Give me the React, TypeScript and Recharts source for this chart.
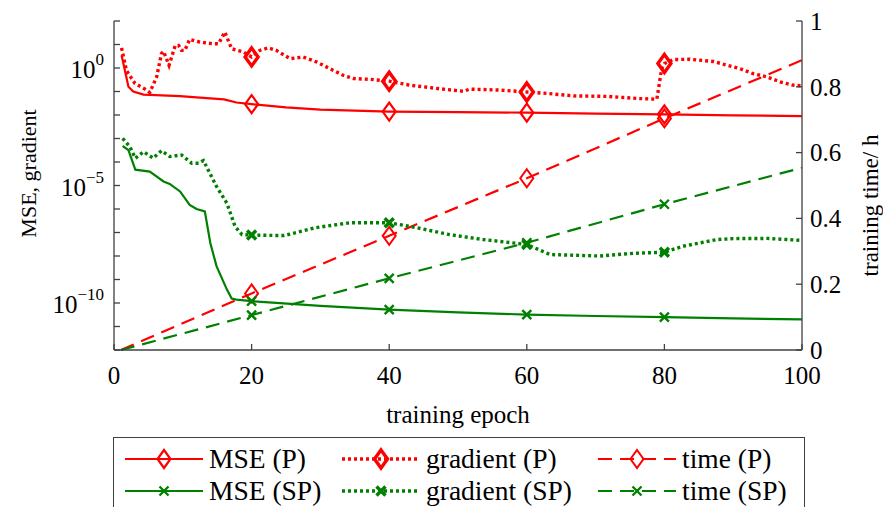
import React from 'react';
import { LineChart, Line, XAxis, YAxis, Legend } from 'recharts';

const RED = '#ff0000';
const GREEN = '#008000';
const AXIS = '#404040';
const FONT = "'Liberation Serif', 'DejaVu Serif', serif";

// x: training epoch
const xTicks = [0, 20, 40, 60, 80, 100];
const markerEpochs = [20, 40, 60, 80];
// left axis (log): decades
const logTicks = [1e2, 1e1, 1e0, 1e-1, 1e-2, 1e-3, 1e-4, 1e-5, 1e-6, 1e-7, 1e-8, 1e-9, 1e-10, 1e-11, 1e-12];
const logLabelled: Record<string, string> = { '1': '0', '0.00001': '−5', '1e-10': '−10' };
// right axis: training time / h
const timeTicks = [0, 0.2, 0.4, 0.6, 0.8, 1];

// MSE (P)
const msePEpochs = [1.1, 2.1, 2.8, 4.3, 9.6, 12, 16, 17.8, 20, 25, 30, 40, 50, 60, 70, 80, 90, 100];
const msePValues = [3.5, 0.16, 0.1, 0.074, 0.063, 0.056, 0.046, 0.034, 0.029, 0.021, 0.017, 0.014, 0.0132, 0.0126, 0.0115, 0.0107, 0.0097, 0.0089];

// gradient (P)
const gradPEpochs = [1.1, 1.8, 3.05, 4.5, 5.2, 6.2, 6.9, 7.2, 8.0, 8.9, 9.4, 9.8, 10.3, 11.0, 12.5, 14.4, 15.2, 16.1, 17.1, 18.8, 20, 21.2, 22.4, 23.6, 25.6, 27.5, 29.5, 31.4, 33.3, 34.8, 37.2, 40, 43, 46.9, 50.8, 51.7, 56.1, 60, 62.9, 66.8, 71.6, 76.4, 78.9, 79.3, 79.6, 80, 81.3, 83.7, 87.1, 91, 92.9, 94.9, 96.8, 98.7, 100];
const gradPValues = [7.2, 0.79, 0.22, 0.126, 0.091, 0.42, 4.1, 5.1, 1.3, 9.1, 9.1, 5.6, 5.6, 16.6, 12.6, 10.7, 10.7, 33.9, 6.6, 4.8, 2.95, 5.6, 7.2, 5.6, 2.5, 2.95, 1.78, 0.93, 0.49, 0.355, 0.33, 0.275, 0.186, 0.135, 0.102, 0.126, 0.115, 0.095, 0.083, 0.065, 0.062, 0.05, 0.047, 0.257, 0.93, 1.55, 2.3, 2.35, 1.9, 0.93, 0.575, 0.42, 0.257, 0.186, 0.174];

// time (P)
const timePEpochs = [1, 20, 40, 60, 80, 100];
const timePValues = [0.0, 0.172, 0.347, 0.522, 0.704, 0.881];

// MSE (SP)
const mseSPEpochs = [1.26, 2.1, 3.1, 5.2, 7.2, 8.1, 9.6, 11.0, 12.0, 13.2, 14.0, 14.9, 16.4, 17.1, 17.8, 20, 30, 40, 50, 60, 70, 80, 90, 100];
const mseSPValues = [4.8e-4, 3.2e-4, 4.7e-5, 3.9e-5, 1.48e-5, 1.17e-5, 5.6e-6, 1.5e-6, 1.0e-6, 7.9e-7, 3.6e-8, 3.7e-9, 3.8e-10, 1.55e-10, 1.4e-10, 1.2e-10, 7.6e-11, 5.2e-11, 4.0e-11, 3.2e-11, 2.8e-11, 2.5e-11, 2.2e-11, 2.0e-11];

// gradient (SP)
const gradSPEpochs = [1.26, 2.3, 3.1, 4.3, 5.7, 6.9, 8.1, 9.8, 11.3, 12.3, 13.0, 14.9, 16.4, 17.6, 18.6, 20, 24.7, 29.3, 34.3, 40, 44, 48.8, 53.7, 60, 63.4, 70.6, 75.5, 80, 82.7, 87.6, 90, 95, 100];
const gradSPValues = [1.02e-3, 4.5e-4, 1.45e-4, 2.75e-4, 1.45e-4, 3.0e-4, 1.7e-4, 2.0e-4, 8.9e-5, 8.9e-5, 1.15e-4, 9.1e-6, 1.78e-6, 1.8e-7, 8.1e-8, 7.8e-8, 7.4e-8, 1.6e-7, 2.6e-7, 2.6e-7, 1.6e-7, 8.1e-8, 5.0e-8, 3.1e-8, 1.15e-8, 1.0e-8, 1.3e-8, 1.45e-8, 2.6e-8, 5.0e-8, 5.5e-8, 5.6e-8, 4.6e-8];

// time (SP)
const timeSPEpochs = [1, 20, 40, 60, 80, 100];
const timeSPValues = [0.0, 0.106, 0.218, 0.326, 0.443, 0.554];

const rows = (epochs: number[], values: number[]) => epochs.map((epoch, i) => ({ epoch, value: values[i] }));

type Kind = 'diamond' | 'cross';

const Marker = ({ kind, cx, cy, color, sw }: { kind: Kind; cx: number; cy: number; color: string; sw: number }) => {
  if (kind === 'diamond') {
    return (
      <path
        d={`M${cx},${cy - 9} L${cx + 6.5},${cy} L${cx},${cy + 9} L${cx - 6.5},${cy} Z`}
        fill="none"
        stroke={color}
        strokeWidth={sw}
        strokeLinejoin="miter"
      />
    );
  }
  const s = 4.5;
  return (
    <path
      d={`M${cx - s},${cy - s} L${cx + s},${cy + s} M${cx - s},${cy + s} L${cx + s},${cy - s}`}
      fill="none"
      stroke={color}
      strokeWidth={sw}
    />
  );
};

const makeDot = (kind: Kind, color: string, sw: number) => (props: any) => {
  const { cx, cy, payload, index } = props;
  if (cx == null || cy == null || !markerEpochs.includes(payload.epoch)) {
    return <g key={`n-${index}`} />;
  }
  return (
    <g key={`m-${index}`}>
      <Marker kind={kind} cx={cx} cy={cy} color={color} sw={sw} />
    </g>
  );
};

const LogTick = (props: any) => {
  const { x, y, payload } = props;
  const exp = logLabelled[String(payload.value)];
  if (!exp) return <g />;
  return (
    <text x={x} y={y + 1} textAnchor="end" dominantBaseline="central" style={{ fontFamily: FONT }} fontSize={25} fill="#000">
      <tspan>10</tspan>
      <tspan dy={-10} fontSize={17}>{exp}</tspan>
    </text>
  );
};

const LeftLabel = (props: any) => {
  const { viewBox } = props;
  const cx = 28;
  const cy = viewBox.y + viewBox.height / 2 - 12;
  return (
    <text x={cx} y={cy} transform={`rotate(-90 ${cx} ${cy})`} textAnchor="middle" dominantBaseline="central" style={{ fontFamily: FONT }} fontSize={22} fill="#000">
      MSE, gradient
    </text>
  );
};

const RightLabel = (props: any) => {
  const { viewBox } = props;
  const cx = 870;
  const cy = viewBox.y + viewBox.height / 2 + 20;
  return (
    <text x={cx} y={cy} transform={`rotate(-90 ${cx} ${cy})`} textAnchor="middle" dominantBaseline="central" style={{ fontFamily: FONT }} fontSize={23} fill="#000">
      training time/ h
    </text>
  );
};

const series = [
  { name: 'MSE (P)', color: RED, dash: undefined as string | undefined, width: 2.2, kind: 'diamond' as Kind, msw: 2.2 },
  { name: 'gradient (P)', color: RED, dash: '3 3', width: 3.4, kind: 'diamond' as Kind, msw: 3.4 },
  { name: 'time (P)', color: RED, dash: '14 8', width: 2.2, kind: 'diamond' as Kind, msw: 2.0 },
  { name: 'MSE (SP)', color: GREEN, dash: undefined as string | undefined, width: 2.2, kind: 'cross' as Kind, msw: 2.4 },
  { name: 'gradient (SP)', color: GREEN, dash: '3 3', width: 3.4, kind: 'cross' as Kind, msw: 3.4 },
  { name: 'time (SP)', color: GREEN, dash: '14 8', width: 2.2, kind: 'cross' as Kind, msw: 2.4 },
];

const legendOrder = [0, 1, 2, 3, 4, 5];
const colX = [11, 228, 484];
const colTextX = [95, 312, 568];
const rowY = [21, 53];

const LegendBox = () => (
  <div
    style={{
      position: 'relative',
      width: 692,
      height: 72,
      border: `1.3px solid ${AXIS}`,
      background: '#fff',
      boxSizing: 'border-box',
      fontFamily: FONT,
    }}
  >
    {legendOrder.map((si, k) => {
      const s = series[si];
      const col = k % 3;
      const row = Math.floor(k / 3);
      return (
        <React.Fragment key={s.name}>
          <svg
            width={80}
            height={24}
            style={{ position: 'absolute', left: colX[col], top: rowY[row] - 12 }}
          >
            <line x1={0} y1={12} x2={78} y2={12} stroke={s.color} strokeWidth={s.width} strokeDasharray={s.dash} />
            <Marker kind={s.kind} cx={39} cy={12} color={s.color} sw={s.msw} />
          </svg>
          <span
            style={{
              position: 'absolute',
              left: colTextX[col],
              top: rowY[row] - 16,
              fontSize: 27.5,
              lineHeight: '32px',
              color: '#000',
              whiteSpace: 'nowrap',
              fontFamily: FONT,
            }}
          >
            {s.name}
          </span>
        </React.Fragment>
      );
    })}
  </div>
);

const datasets = [
  rows(msePEpochs, msePValues),
  rows(gradPEpochs, gradPValues),
  rows(timePEpochs, timePValues),
  rows(mseSPEpochs, mseSPValues),
  rows(gradSPEpochs, gradSPValues),
  rows(timeSPEpochs, timeSPValues),
];
const axisOf = ['left', 'left', 'right', 'left', 'left', 'right'];

export default function App() {
  return (
    <div style={{ position: 'absolute', left: 0, top: 0, width: 883, height: 507, background: '#fff', fontFamily: FONT }}>
      <LineChart width={883} height={507} margin={{ top: 21, right: 0, bottom: 0, left: 0 }} style={{ fontFamily: FONT }}>
        <XAxis
          xAxisId="bottom"
          dataKey="epoch"
          type="number"
          domain={[0, 100]}
          ticks={xTicks}
          allowDataOverflow
          height={85}
          tickSize={-6}
          tickMargin={22}
          stroke={AXIS}
          strokeWidth={1.3}
          tick={{ style: { fontFamily: FONT }, fontSize: 25, fill: '#000' }}
          label={{ value: 'training epoch', position: 'insideBottom', offset: 12, style: { fontFamily: FONT, fontSize: 25, fill: '#000' } }}
        />
        <XAxis
          xAxisId="top"
          orientation="top"
          dataKey="epoch"
          type="number"
          domain={[0, 100]}
          ticks={xTicks}
          height={0}
          tickSize={-6}
          tick={false}
          stroke={AXIS}
          strokeWidth={1.3}
        />
        <YAxis
          yAxisId="left"
          scale="log"
          type="number"
          domain={[1e-12, 1e2]}
          allowDataOverflow
          ticks={logTicks}
          interval={0}
          width={114}
          tickSize={-6}
          tickMargin={16}
          stroke={AXIS}
          strokeWidth={1.3}
          tick={<LogTick />}
          label={<LeftLabel />}
        />
        <YAxis
          yAxisId="right"
          orientation="right"
          type="number"
          domain={[0, 1]}
          ticks={timeTicks}
          interval={0}
          width={81}
          tickSize={-6}
          tickMargin={14}
          stroke={AXIS}
          strokeWidth={1.3}
          tick={{ style: { fontFamily: FONT }, fontSize: 25, fill: '#000', textAnchor: 'start' }}
          label={<RightLabel />}
        />
        {series.map((s, i) => (
          <Line
            key={s.name}
            name={s.name}
            data={datasets[i]}
            dataKey="value"
            xAxisId="bottom"
            yAxisId={axisOf[i]}
            type="linear"
            stroke={s.color}
            strokeWidth={s.width}
            strokeDasharray={s.dash}
            dot={makeDot(s.kind, s.color, s.msw)}
            activeDot={false}
            isAnimationActive={false}
          />
        ))}
        <Legend
          content={<LegendBox />}
          wrapperStyle={{ left: 113, top: 437, bottom: 'auto', width: 692 }}
        />
      </LineChart>
    </div>
  );
}
